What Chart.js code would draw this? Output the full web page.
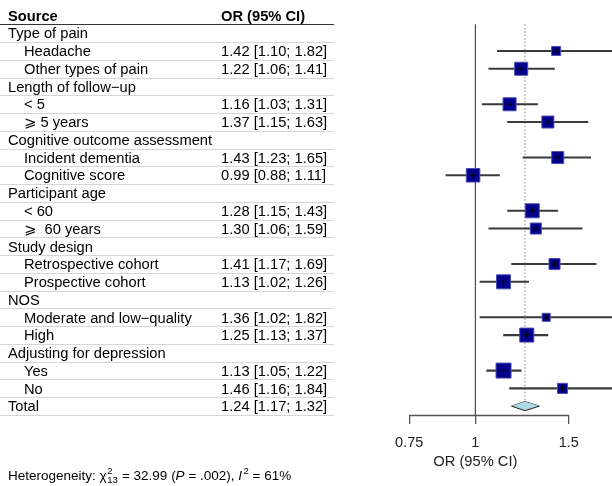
<!DOCTYPE html>
<html>
<head>
<meta charset="utf-8">
<script src="https://cdn.jsdelivr.net/npm/chart.js@4.4.0/dist/chart.umd.min.js"></script>
<style>
html,body{margin:0;padding:0;background:#fff;}
#wrap{width:612px;height:486px;position:relative;}
</style>
</head>
<body>
<div id="wrap"><canvas id="c" width="612" height="486"></canvas></div>
<script>
// ---------- data ----------
const rowLabels = [
  'Source',
  'Type of pain', 'Headache', 'Other types of pain',
  'Length of follow\u2212up', '< 5', '\u2A7E 5 years',
  'Cognitive outcome assessment', 'Incident dementia', 'Cognitive score',
  'Participant age', '< 60', '\u2A7E  60 years',
  'Study design', 'Retrospective cohort', 'Prospective cohort',
  'NOS', 'Moderate and low\u2212quality', 'High',
  'Adjusting for depression', 'Yes', 'No',
  'Total'
];
const rowKinds = [
  'header',
  'group', 'item', 'item',
  'group', 'item', 'item',
  'group', 'item', 'item',
  'group', 'item', 'item',
  'group', 'item', 'item',
  'group', 'item', 'item',
  'group', 'item', 'item',
  'total'
];
const orValues = [null, null, 1.42, 1.22, null, 1.16, 1.37, null, 1.43, 0.99, null, 1.28, 1.30, null, 1.41, 1.13, null, 1.36, 1.25, null, 1.13, 1.46, 1.24];
const lowerCI  = [null, null, 1.10, 1.06, null, 1.03, 1.15, null, 1.23, 0.88, null, 1.15, 1.06, null, 1.17, 1.02, null, 1.02, 1.13, null, 1.05, 1.16, 1.17];
const upperCI  = [null, null, 1.82, 1.41, null, 1.31, 1.63, null, 1.65, 1.11, null, 1.43, 1.59, null, 1.69, 1.26, null, 1.82, 1.37, null, 1.22, 1.84, 1.32];
const studyWeights = [null, null, 5.4, 11.3, null, 11.3, 9.6, null, 9.6, 12.2, null, 13.1, 8.1, null, 8.1, 13.1, null, 4.3, 13.1, null, 15.0, 6.7, null];
const pooledOR = 1.24;
const nullValue = 1;
const tickValues = [0.75, 1, 1.5];
const tickLabels = ['0.75', '1', '1.5'];
const xTitle = 'OR (95% CI)';
const headerOR = 'OR (95% CI)';

// ---------- helpers ----------
const FONT = '"Liberation Sans", Arial, "DejaVu Sans", sans-serif';
const fmt = v => v.toFixed(2);
const orText = i => orValues[i] == null ? '' : fmt(orValues[i]) + ' [' + fmt(lowerCI[i]) + '; ' + fmt(upperCI[i]) + ']';
const itemIdx = rowKinds.map((k, i) => k === 'item' ? i : -1).filter(i => i >= 0);
const totalIdx = rowKinds.indexOf('total');

const ciData = itemIdx.map(i => ({ y: i, x: [lowerCI[i], upperCI[i]] }));
const ptData = itemIdx.map(i => ({ x: orValues[i], y: i }));
const ptRadius = itemIdx.map(i => 15 * Math.sqrt(studyWeights[i] / 15) / Math.SQRT2);
const diamondH = 0.26;
const diamondTop = [
  { x: lowerCI[totalIdx], y: totalIdx },
  { x: orValues[totalIdx], y: totalIdx - diamondH },
  { x: upperCI[totalIdx], y: totalIdx }
];
const diamondBottom = [
  { x: lowerCI[totalIdx], y: totalIdx },
  { x: orValues[totalIdx], y: totalIdx + diamondH },
  { x: upperCI[totalIdx], y: totalIdx }
];

const xMax = 1.81, xMin = 1 / 1.81;

// ---------- table plugin ----------
const tablePlugin = {
  id: 'forestTable',
  afterDraw(chart) {
    const ctx = chart.ctx;
    const ys = chart.scales.y;
    const xs = chart.scales.x;
    const ca = chart.chartArea;
    const rowH = Math.abs(ys.getPixelForValue(1) - ys.getPixelForValue(0));
    ctx.save();
    for (let i = 0; i < rowLabels.length; i++) {
      const yb = Math.round(ys.getPixelForValue(i) + rowH / 2) + 0.5;
      ctx.beginPath();
      ctx.moveTo(0, yb);
      ctx.lineTo(334, yb);
      if (i === 0) { ctx.strokeStyle = '#333'; ctx.lineWidth = 1.2; }
      else { ctx.strokeStyle = '#d6d6d6'; ctx.lineWidth = 1.2; }
      ctx.stroke();
    }
    ctx.fillStyle = '#000';
    ctx.textBaseline = 'alphabetic';
    for (let i = 0; i < rowLabels.length; i++) {
      const yc = ys.getPixelForValue(i);
      const yb = yc + 5.2;
      const kind = rowKinds[i];
      if (kind === 'header') {
        ctx.font = 'bold 14.7px ' + FONT;
        ctx.fillText(rowLabels[i], 8, yb);
        ctx.fillText(headerOR, 221, yb);
      } else {
        ctx.font = '14.7px ' + FONT;
        ctx.fillText(rowLabels[i], kind === 'item' ? 24 : 8, yb);
        const t = orText(i);
        if (t) ctx.fillText(t, 221, yb);
      }
    }
    const ay = Math.round(ca.bottom) + 0.5;
    ctx.beginPath();
    ctx.moveTo(xs.getPixelForValue(tickValues[0]), ay);
    ctx.lineTo(xs.getPixelForValue(tickValues[tickValues.length - 1]), ay);
    ctx.strokeStyle = '#555'; ctx.lineWidth = 1.3;
    ctx.stroke();
    let x = 8; const by = 479.5;
    const S = 13.5, s2 = 9.5;
    const f = s => s + 'px ' + FONT;
    const put = (txt, font, dx, dy) => { ctx.font = font; ctx.fillText(txt, x + (dx || 0), by + (dy || 0)); return ctx.measureText(txt).width; };
    x += put('Heterogeneity: ', f(S));
    x += put('\u03C7', f(S));
    const wSup = put('2', f(s2), 0.5, -6);
    const wSub = put('13', f(s2), 0.5, 3.8);
    x += Math.max(wSup, wSub) + 1;
    x += put(' = 32.99 (', f(S));
    x += put('P', 'italic ' + f(S));
    x += put(' = .002), ', f(S));
    x += put('I', 'italic ' + f(S));
    x += put('2', f(s2), 1.5, -6) + 1.5;
    x += put(' = 61%', f(S));
    ctx.restore();
  }
};

new Chart(document.getElementById('c'), {
  data: {
    datasets: [
      {
        type: 'line', label: 'null', order: 20,
        data: [{ x: nullValue, y: 0.5 }, { x: nullValue, y: totalIdx + 0.5 }],
        borderColor: '#555', borderWidth: 1.3, pointRadius: 0, fill: false
      },
      {
        type: 'line', label: 'pooled', order: 19,
        data: [{ x: pooledOR, y: 0.5 }, { x: pooledOR, y: totalIdx }],
        borderColor: '#999', borderWidth: 1.2, borderDash: [1.5, 2], pointRadius: 0, fill: false
      },
      {
        type: 'bar', label: 'CI', order: 10, indexAxis: 'y',
        data: ciData, backgroundColor: '#3a3a3a', barThickness: 1.4, borderWidth: 0
      },
      {
        type: 'scatter', label: 'OR', order: 5,
        data: ptData, pointStyle: 'rect', pointRadius: ptRadius,
        backgroundColor: '#00008B', borderColor: '#4b4bb5', borderWidth: 1
      },
      {
        type: 'scatter', label: 'cross', order: 4,
        data: ptData, pointStyle: 'cross', pointRadius: 3,
        borderColor: '#000', borderWidth: 1
      },
      {
        type: 'line', label: 'diamondTop', order: 2,
        data: diamondTop, borderColor: '#222', borderWidth: 1, pointRadius: 0, fill: false, tension: 0
      },
      {
        type: 'line', label: 'diamondBottom', order: 1,
        data: diamondBottom, borderColor: '#222', borderWidth: 1, pointRadius: 0, tension: 0,
        fill: '-1', backgroundColor: '#ADD8E6'
      }
    ]
  },
  options: {
    responsive: false,
    animation: false,
    devicePixelRatio: 1,
    layout: { autoPadding: false, padding: { left: 338.8, top: 6.6, right: 0, bottom: 0 } },
    plugins: { legend: { display: false }, tooltip: { enabled: false } },
    scales: {
      x: {
        type: 'logarithmic', position: 'bottom', offset: false,
        min: xMin, max: xMax,
        afterBuildTicks: s => { s.ticks = tickValues.map(v => ({ value: v })); },
        afterFit: s => { s.height = 71; },
        ticks: {
          autoSkip: false, maxRotation: 0, padding: 10,
          color: '#222', font: { family: FONT, size: 14.5 },
          callback: (v) => { const k = tickValues.indexOf(v); return k >= 0 ? tickLabels[k] : ''; }
        },
        grid: { offset: false, drawOnChartArea: false, drawTicks: true, tickLength: 9, color: '#555', lineWidth: 1.3 },
        border: { display: false },
        title: { display: true, text: xTitle, color: '#222', font: { family: FONT, size: 14.7 }, padding: { top: 0, bottom: 15.5 } }
      },
      y: {
        type: 'linear', reverse: true, min: -0.5, max: rowLabels.length - 0.5,
        offset: false, grid: { offset: false },
        display: false
      }
    }
  },
  plugins: [tablePlugin]
});
</script>
</body>
</html>
